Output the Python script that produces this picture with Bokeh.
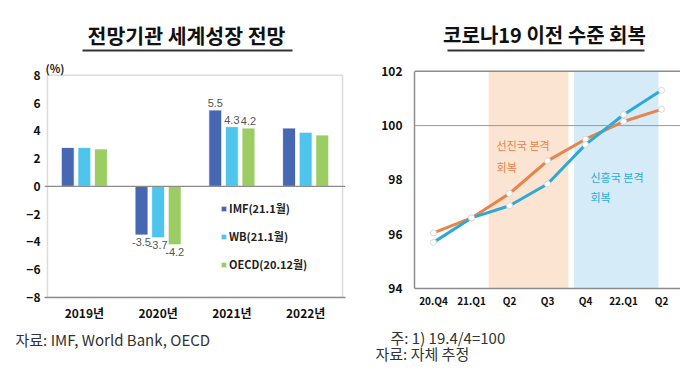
from bokeh.plotting import figure
from bokeh.models import (ColumnDataSource, FactorRange, Label, BoxAnnotation, Span,
                          Legend, LegendItem, FixedTicker, Range1d, Title)
from bokeh.transform import dodge
from bokeh.layouts import row
from bokeh.embed import file_html
from bokeh.resources import INLINE
from bokeh.core.properties import value

# ---------------- data ----------------
years = ["2019년", "2020년", "2021년", "2022년"]
imf = [2.8, -3.5, 5.5, 4.2]
wb = [2.8, -3.7, 4.3, 3.9]
oecd = [2.7, -4.2, 4.2, 3.7]
series_names = ["IMF(21.1월)", "WB(21.1월)", "OECD(20.12월)"]
labeled_years = ["2020년", "2021년"]

quarters = ["20.Q4", "21.Q1", "Q2", "Q3", "Q4", "22.Q1", "Q2"]
advanced = [96.05, 96.6, 97.5, 98.7, 99.5, 100.15, 100.6]
emerging = [95.7, 96.6, 97.05, 97.85, 99.3, 100.4, 101.3]
adv_band = (1.45, 3.55)
emg_band = (3.7, 5.92)

KR = "Noto Sans CJK KR"
colors = ["#4767b2", "#4fc5ee", "#9ccd62"]
AXC = "#8c8c8c"
H = 380

# ---------------- left chart ----------------
p1 = figure(x_range=FactorRange(factors=years, range_padding=0.04, range_padding_units="absolute"),
            y_range=Range1d(-8, 12.52),
            width=348, height=H, output_backend="svg", toolbar_location=None,
            min_border_left=44, min_border_right=3, min_border_top=12, min_border_bottom=82)
p1.xgrid.grid_line_color = None
p1.ygrid.grid_line_color = None
p1.outline_line_color = None
p1.yaxis.ticker = FixedTicker(ticks=list(range(-8, 9, 2)))
p1.yaxis.bounds = (-8, 8)
for ax in (p1.xaxis[0], p1.yaxis[0]):
    ax.axis_line_color = AXC
    ax.axis_line_width = 1.5
    ax.major_tick_line_color = None
    ax.minor_tick_line_color = None
    ax.major_tick_out = 0
    ax.major_tick_in = 0
    ax.major_label_text_font = KR
    ax.major_label_text_font_style = "bold"
    ax.major_label_text_font_size = "12px"
    ax.major_label_text_color = "#111111"
p1.yaxis.axis_line_color = None
p1.yaxis.major_label_standoff = 4
p1.xaxis.major_label_standoff = 6
p1.add_layout(BoxAnnotation(left=0, right=4, bottom=-8, top=8, fill_alpha=0,
                            line_color=AXC, line_width=1.5))

src = ColumnDataSource(dict(year=years, imf=imf, wb=wb, oecd=oecd))
offsets = [-0.225, 0.0, 0.225]
keys = ["imf", "wb", "oecd"]
vals = [imf, wb, oecd]
items = []
for k, off, c, name, vs in zip(keys, offsets, colors, series_names, vals):
    r = p1.vbar(x=dodge("year", off, range=p1.x_range), top=k, width=0.175, source=src,
                fill_color=c, line_color="white", line_width=0.8)
    items.append(LegendItem(label=name, renderers=[r]))
    pos = dict(year=[], y=[], t=[])
    neg = dict(year=[], y=[], t=[])
    for yr, v in zip(years, vs):
        if yr in labeled_years:
            d = pos if v >= 0 else neg
            d["year"].append(yr)
            d["y"].append(v)
            d["t"].append(f"{v:.1f}")
    p1.text(x=dodge("year", off, range=p1.x_range), y="y", text="t", source=ColumnDataSource(pos),
            text_align="center", text_baseline="bottom", y_offset=-3,
            text_font=value("Liberation Sans"), text_font_size="11px", text_color="#555555")
    p1.text(x=dodge("year", off, range=p1.x_range), y="y", text="t", source=ColumnDataSource(neg),
            text_align="center", text_baseline="top", y_offset=3,
            text_font=value("Liberation Sans"), text_font_size="11px", text_color="#555555")

p1.add_layout(Span(location=0, dimension="width", line_color=AXC, line_width=1.2))

legend = Legend(items=items, location=(176, 23))
legend.label_text_font = KR
legend.label_text_font_style = "bold"
legend.label_text_font_size = "11px"
legend.label_text_color = "#222222"
legend.glyph_width = 7
legend.glyph_height = 7
legend.label_standoff = 2
legend.spacing = 8
legend.label_height = 20
legend.padding = 0
legend.margin = 0
legend.border_line_color = None
legend.background_fill_alpha = 0
p1.add_layout(legend)

p1.add_layout(Label(x=142, y=263, x_units="screen", y_units="screen", text="전망기관 세계성장 전망",
                    text_align="center", text_baseline="middle", text_font=KR,
                    text_font_style="bold", text_font_size="20.5px", text_color="#111111"))
p1.add_layout(BoxAnnotation(left=38, right=248, top=248, bottom=246, left_units="screen",
                            right_units="screen", top_units="screen", bottom_units="screen",
                            fill_color="#333333", fill_alpha=1, line_color=None))
p1.add_layout(Label(x=1, y=230, x_units="screen", y_units="screen", text="(%)",
                    text_align="left", text_baseline="middle", text_font=KR,
                    text_font_style="bold", text_font_size="11px", text_color="#222222"))
p1.add_layout(Title(text="자료: IMF, World Bank, OECD", align="left", offset=-29, standoff=8,
                    vertical_align="middle", text_font=KR, text_font_style="normal",
                    text_font_size="15px", text_color="#333333"), "below")

# ---------------- right chart ----------------
p2 = figure(x_range=Range1d(-0.5, 6.5), y_range=Range1d(93.67, 104.165),
            width=332, height=H, output_backend="svg", toolbar_location=None,
            min_border_left=66, min_border_right=0, min_border_top=12, min_border_bottom=82)
p2.xgrid.grid_line_color = None
p2.ygrid.grid_line_color = None
p2.outline_line_color = None
p2.yaxis.ticker = FixedTicker(ticks=list(range(94, 103, 2)))
p2.yaxis.bounds = (94, 102)
p2.xaxis.ticker = FixedTicker(ticks=list(range(len(quarters))))
p2.xaxis.major_label_overrides = {i: q for i, q in enumerate(quarters)}
for ax in (p2.xaxis[0], p2.yaxis[0]):
    ax.axis_line_color = AXC
    ax.axis_line_width = 1.5
    ax.major_tick_line_color = None
    ax.minor_tick_line_color = None
    ax.major_tick_out = 0
    ax.major_tick_in = 0
    ax.major_label_text_font = KR
    ax.major_label_text_font_style = "bold"
    ax.major_label_text_color = "#111111"
p2.xaxis.axis_line_color = None
p2.yaxis.major_label_text_font_size = "12px"
p2.xaxis.major_label_text_font_size = "10px"
p2.yaxis.major_label_standoff = 12
p2.xaxis.major_label_standoff = -5

p2.add_layout(BoxAnnotation(left=adv_band[0], right=adv_band[1], bottom=94, top=102,
                            fill_color="#fbe4d2", fill_alpha=1, line_color=None, level="underlay"))
p2.add_layout(BoxAnnotation(left=emg_band[0], right=emg_band[1], bottom=94, top=102,
                            fill_color="#d5ebf8", fill_alpha=1, line_color=None, level="underlay"))
p2.add_layout(Span(location=100, dimension="width", line_color="#9a9a9a", line_width=1))
p2.add_layout(Span(location=102, dimension="width", line_color=AXC, line_width=1.5))
p2.add_layout(Span(location=94, dimension="width", line_color=AXC, line_width=1.5))

xi = list(range(len(quarters)))
ORANGE = "#e8834c"
BLUE = "#2ea9d6"
p2.line(xi, advanced, line_color=ORANGE, line_width=3)
p2.scatter(xi, advanced, size=6, fill_color="white", line_color="#d8d8d8", line_width=1)
p2.line(xi, emerging, line_color=BLUE, line_width=3)
p2.scatter(xi, emerging, size=6, fill_color="white", line_color="#d8d8d8", line_width=1)

for txt, x, y, c in [("선진국 본격", 1.66, 99.3, ORANGE), ("회복", 1.66, 98.46, ORANGE),
                     ("신흥국 본격", 4.13, 98.1, BLUE), ("회복", 4.13, 97.36, BLUE)]:
    p2.add_layout(Label(x=x, y=y, text=txt, text_align="left", text_baseline="middle",
                        text_font=KR, text_font_size="11px", text_color=c))

p2.add_layout(Label(x=130, y=263, x_units="screen", y_units="screen", text="코로나19 이전 수준 회복",
                    text_align="center", text_baseline="middle", text_font=KR,
                    text_font_style="bold", text_font_size="20px", text_color="#111111"))
p2.add_layout(BoxAnnotation(left=33, right=230, top=248, bottom=246, left_units="screen",
                            right_units="screen", top_units="screen", bottom_units="screen",
                            fill_color="#333333", fill_alpha=1, line_color=None))
p2.add_layout(Title(text="\u3000주: 1) 19.4/4=100\n자료: 자체 추정", align="left", offset=-39,
                    standoff=31, vertical_align="middle", text_font=KR, text_font_style="normal",
                    text_font_size="15px", text_color="#333333", text_line_height=0.74), "below")

layout = row(p1, p2)
open("out.html", "w").write(file_html(layout, INLINE))
